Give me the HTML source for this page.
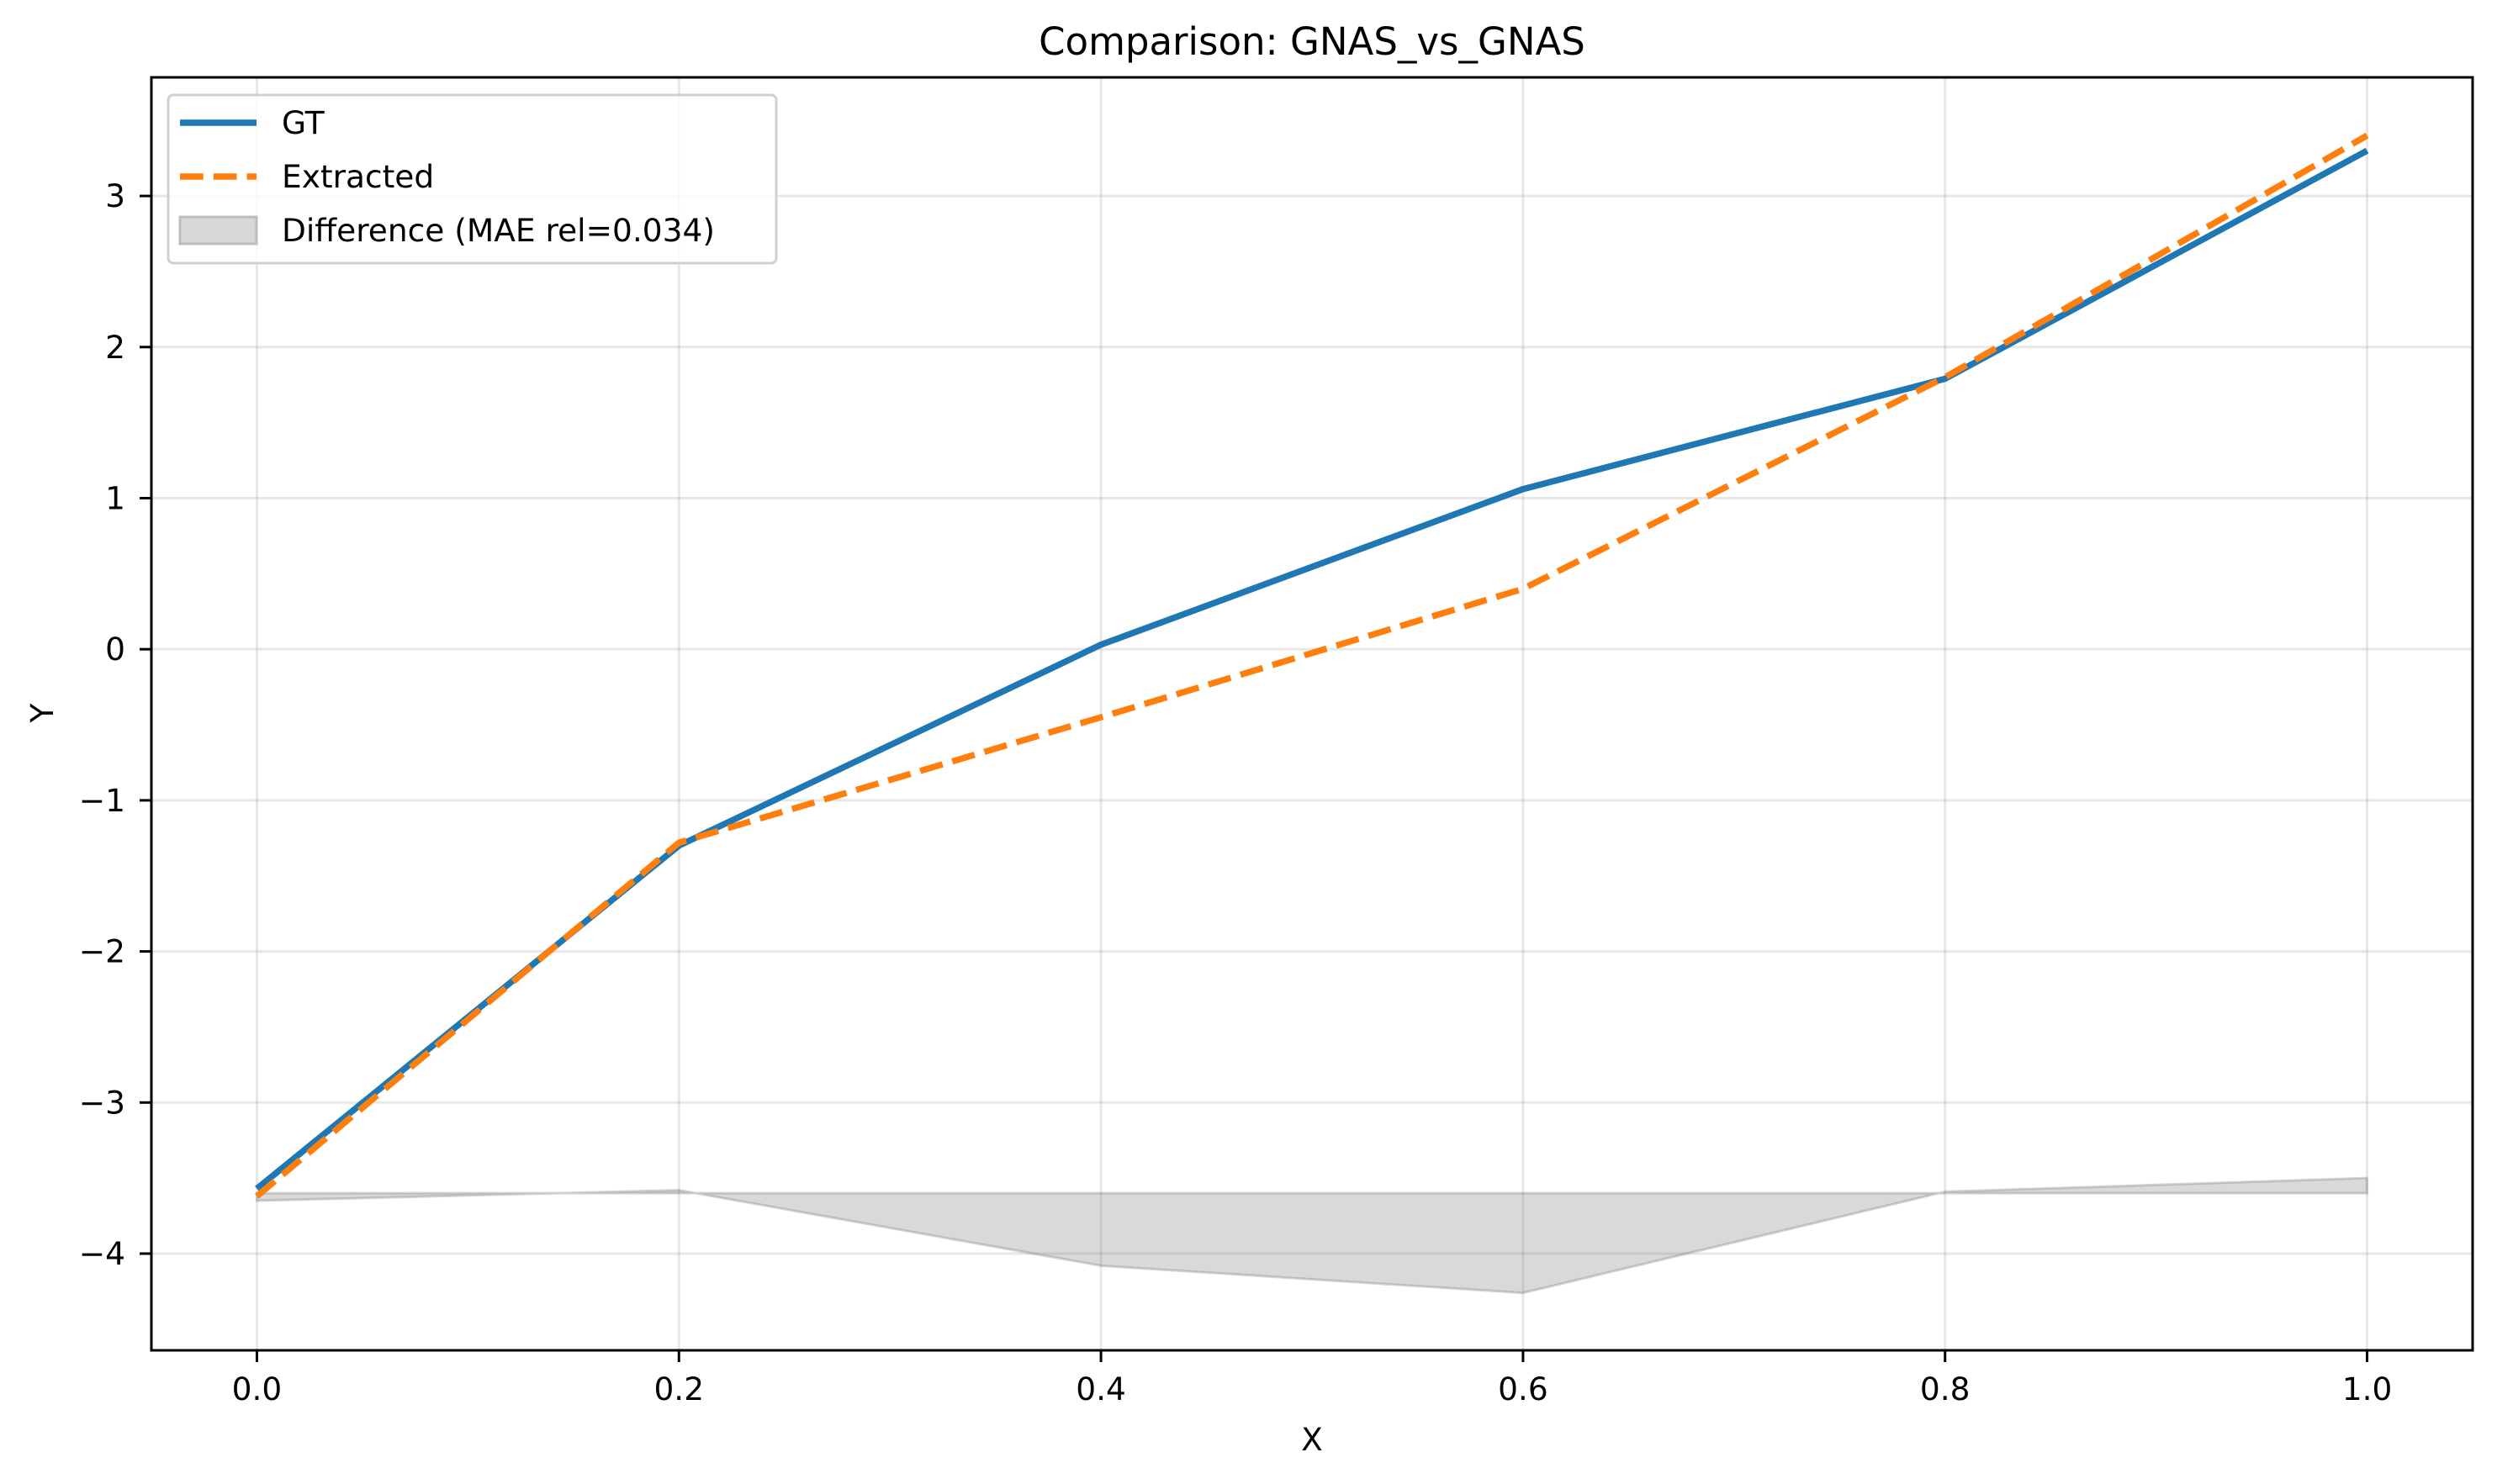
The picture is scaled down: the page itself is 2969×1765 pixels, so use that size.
<!DOCTYPE html>
<html><head><meta charset="utf-8"><style>
html,body{margin:0;padding:0;background:#fff}
svg{display:block}
text{font-family:"DejaVu Sans","Liberation Sans",sans-serif;fill:#000}
</style></head><body>
<svg id="chart" width="2969" height="1765" viewBox="0 0 2969 1765" xmlns="http://www.w3.org/2000/svg">
<rect width="2969" height="1765" fill="#fff"/>
<g id="grid"></g>
<g id="fill"></g>
<g id="lines"></g>
<rect x="180" y="92" width="2760" height="1514" fill="none" stroke="#000" stroke-width="3"/>
<g id="ticks"></g>
<text x="1560" y="65" font-size="45" text-anchor="middle">Comparison: GNAS_vs_GNAS</text>
<text x="1560" y="1725" font-size="37.5" text-anchor="middle">X</text>
<text x="0" y="0" font-size="37.5" text-anchor="middle" transform="translate(63,848) rotate(-90)">Y</text>
<g>
<rect x="200" y="113" width="723" height="200" rx="6" fill="#fff" fill-opacity="0.8" stroke="#d0d0d0" stroke-width="3"/>
<line x1="214" y1="146" x2="305" y2="146" stroke="#1f77b4" stroke-width="7.5"/>
<text x="335" y="159" font-size="37.5">GT</text>
<line x1="214" y1="210" x2="305" y2="210" stroke="#ff7f0e" stroke-width="7.5" stroke-dasharray="27.75,12"/>
<text x="335" y="223" font-size="37.5">Extracted</text>
<rect x="214" y="258" width="91" height="32" fill="#d8d8d8" stroke="#bdbdbd" stroke-width="3"/>
<text x="335" y="287" font-size="37.5">Difference (MAE rel=0.034)</text>
</g>
</svg>
<script>
const xValues = [0.0, 0.2, 0.4, 0.6, 0.8, 1.0];
const gtValues = [-3.57, -1.30, 0.03, 1.06, 1.79, 3.30];
const extractedValues = [-3.62, -1.28, -0.45, 0.40, 1.80, 3.40];
const diffBase = -3.6;
const xTicks = [0.0, 0.2, 0.4, 0.6, 0.8, 1.0];
const xTickLabels = ["0.0", "0.2", "0.4", "0.6", "0.8", "1.0"];
const yTicks = [-4, -3, -2, -1, 0, 1, 2, 3];
const yTickLabels = ["\u22124", "\u22123", "\u22122", "\u22121", "0", "1", "2", "3"];

const NS = "http://www.w3.org/2000/svg";
const L = 180, R = 2940, T = 92, B = 1606;
const xMin = -0.05, xMax = 1.05, yMin = -4.64, yMax = 3.785;
function sx(v){ return L + (v - xMin) / (xMax - xMin) * (R - L); }
function sy(v){ return B - (v - yMin) / (yMax - yMin) * (B - T); }
function mk(tag, attrs, parent){
  const e = document.createElementNS(NS, tag);
  for (const k in attrs) e.setAttribute(k, attrs[k]);
  parent.appendChild(e);
  return e;
}
const gridG = document.getElementById('grid');
const ticksG = document.getElementById('ticks');
xTicks.forEach((v, i) => {
  const g = mk('line', {x1: sx(v), x2: sx(v), y1: T, y2: B, stroke: '#b0b0b0', 'stroke-opacity': 0.3, 'stroke-width': 3}, gridG);
  
  
  const t = mk('line', {x1: sx(v), x2: sx(v), y1: B, y2: B + 14, stroke: '#000', 'stroke-width': 3}, ticksG);
  
  
  const lb = mk('text', {x: sx(v), y: B + 59, 'font-size': 37.5, 'text-anchor': 'middle'}, ticksG);
  lb.textContent = xTickLabels[i];
  
  
});
yTicks.forEach((v, i) => {
  const g = mk('line', {x1: L, x2: R, y1: sy(v), y2: sy(v), stroke: '#b0b0b0', 'stroke-opacity': 0.3, 'stroke-width': 3}, gridG);
  
  
  const t = mk('line', {x1: L - 14, x2: L, y1: sy(v), y2: sy(v), stroke: '#000', 'stroke-width': 3}, ticksG);
  
  
  const lb = mk('text', {x: L - 31, y: sy(v) + 13, 'font-size': 37.5, 'text-anchor': 'end'}, ticksG);
  lb.textContent = yTickLabels[i];
  
  
});
const fillTopPts = xValues.map((x) => sx(x) + ',' + sy(diffBase)).join(' ');
const fillBotPts = xValues.map((x, i) => sx(x) + ',' + sy(diffBase + extractedValues[i] - gtValues[i])).reverse().join(' ');
const poly = mk('polygon', {points: fillTopPts + ' ' + fillBotPts, fill: '#808080', 'fill-opacity': 0.3, stroke: '#808080', 'stroke-opacity': 0.35, 'stroke-width': 3}, document.getElementById('fill'));


const linesG = document.getElementById('lines');
const gt = mk('polyline', {points: xValues.map((x, i) => sx(x) + ',' + sy(gtValues[i])).join(' '), fill: 'none', stroke: '#1f77b4', 'stroke-width': 7.5, 'stroke-linejoin': 'round'}, linesG);


const ex = mk('polyline', {points: xValues.map((x, i) => sx(x) + ',' + sy(extractedValues[i])).join(' '), fill: 'none', stroke: '#ff7f0e', 'stroke-width': 7.5, 'stroke-dasharray': '27.75,12', 'stroke-linejoin': 'round'}, linesG);


</script>
</body></html>
